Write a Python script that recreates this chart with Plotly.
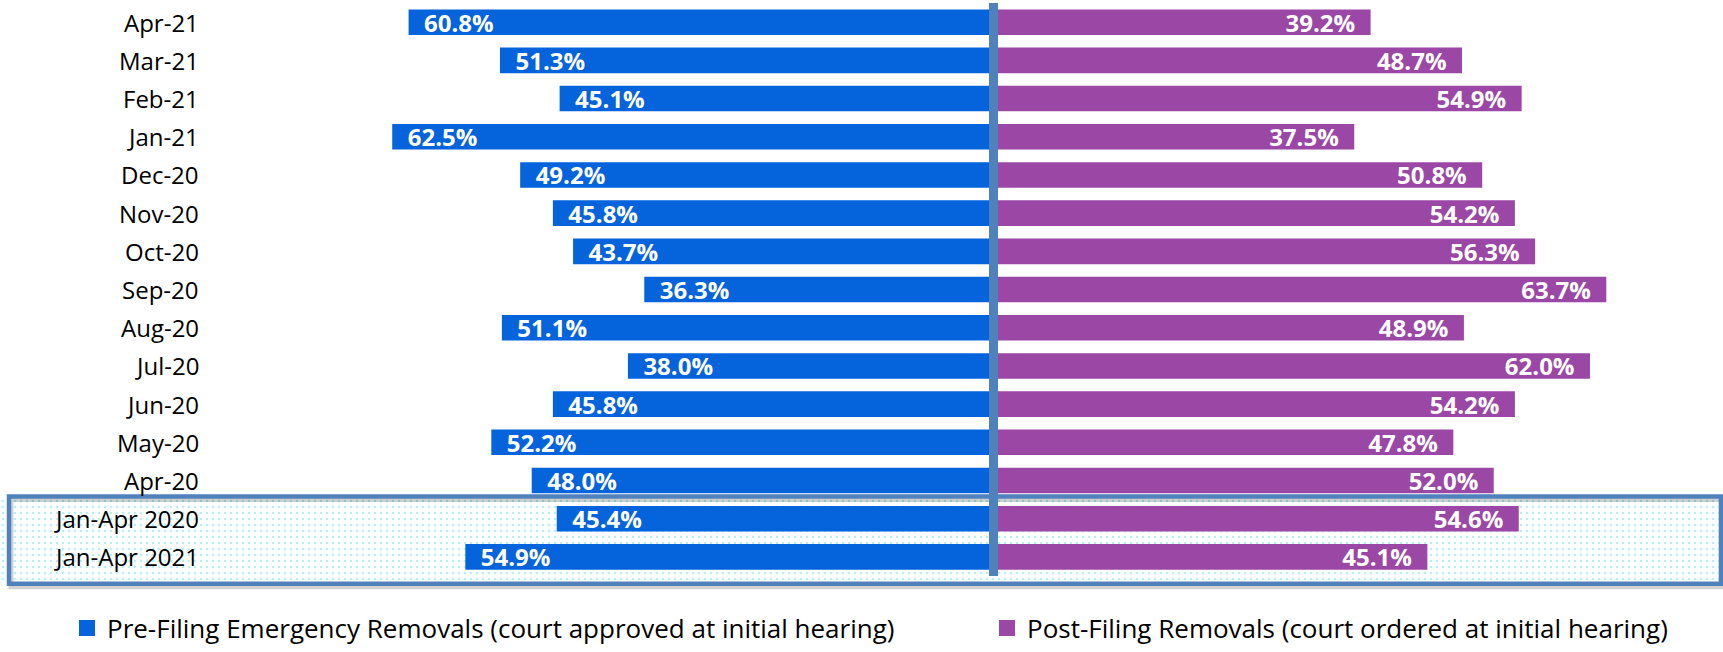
import plotly.graph_objects as go

categories = ["Apr-21", "Mar-21", "Feb-21", "Jan-21", "Dec-20", "Nov-20", "Oct-20",
              "Sep-20", "Aug-20", "Jul-20", "Jun-20", "May-20", "Apr-20",
              "Jan-Apr 2020", "Jan-Apr 2021"]
pre_filing = [60.8, 51.3, 45.1, 62.5, 49.2, 45.8, 43.7, 36.3, 51.1, 38.0, 45.8, 52.2, 48.0, 45.4, 54.9]
post_filing = [39.2, 48.7, 54.9, 37.5, 50.8, 54.2, 56.3, 63.7, 48.9, 62.0, 54.2, 47.8, 52.0, 54.6, 45.1]
highlighted = ["Jan-Apr 2020", "Jan-Apr 2021"]

series_names = ["Pre-Filing Emergency Removals (court approved at initial hearing)",
                "Post-Filing Removals (court ordered at initial hearing)"]

BLUE = "#0563DB"
PURPLE = "#9B47A5"
FRAME = "#4F81BD"
DOT = "#6FE0E6"
FONT = "Open Sans"

W, H = 1723, 652
X_RANGE = [-103.27, 75.83]
Y_RANGE = [16.254, -0.581]
NBSP = "\u00a0"

ypos = list(range(len(categories)))

fig = go.Figure()

# Highlight background (dotted) for the summary rows
hi_idx = [categories.index(c) for c in highlighted]
box_top = min(hi_idx) - 0.58
box_bot = max(hi_idx) + 0.70
fig.add_trace(go.Bar(
    y=[(box_top + box_bot) / 2], x=[X_RANGE[1] - X_RANGE[0]], base=[X_RANGE[0]],
    width=[box_bot - box_top], orientation="h", showlegend=False, hoverinfo="skip",
    marker=dict(color="white", line=dict(width=0),
                pattern=dict(shape=".", fgcolor=DOT, bgcolor="white", size=6, solidity=0.16)),
))

fig.add_trace(go.Bar(
    y=ypos, x=[-v for v in pre_filing], orientation="h", width=0.67,
    name=series_names[0], showlegend=False,
    marker=dict(color=BLUE, line=dict(width=0)),
    text=[NBSP * 2 + f"{v:.1f}%" for v in pre_filing],
    textposition="inside", insidetextanchor="end", textangle=0, constraintext="none",
    textfont=dict(family=FONT, size=24, color="white", weight="bold"),
))
fig.add_trace(go.Bar(
    y=ypos, x=post_filing, orientation="h", width=0.67,
    name=series_names[1], showlegend=False,
    marker=dict(color=PURPLE, line=dict(width=0)),
    text=[f"{v:.1f}%" + NBSP * 2 for v in post_filing],
    textposition="inside", insidetextanchor="end", textangle=0, constraintext="none",
    textfont=dict(family=FONT, size=24, color="white", weight="bold"),
))

# legend entries (square swatches)
for name, color, lg in [(series_names[0], BLUE, "legend"), (series_names[1], PURPLE, "legend2")]:
    fig.add_trace(go.Scatter(x=[None], y=[None], mode="markers", name=name, legend=lg,
                             marker=dict(symbol="square", size=16, color=color)))

# category labels
for i, c in enumerate(categories):
    fig.add_annotation(x=201 / W, xref="paper", y=i, yref="y", text=c, showarrow=False,
                       xanchor="right", yanchor="middle",
                       font=dict(family=FONT, size=24, color="#000000"))

shapes = [
    # shadow of frame
    dict(type="rect", xref="paper", yref="y", x0=11 / W, x1=1723 / W,
         y0=box_top + 0.08, y1=box_bot + 0.08,
         line=dict(color="rgba(0,0,0,0.18)", width=5), layer="above"),
    dict(type="rect", xref="paper", yref="y", x0=9 / W, x1=1721 / W,
         y0=box_top, y1=box_bot, line=dict(color=FRAME, width=4.5), layer="above"),
    # center axis
    dict(type="line", xref="x", yref="y", x0=0, x1=0, y0=-0.5, y1=len(categories) - 0.5,
         line=dict(color=FRAME, width=9), layer="above"),
]

legend_font = dict(family=FONT, size=26, color="#000000")
fig.update_layout(
    width=W, height=H, margin=dict(l=0, r=0, t=0, b=0),
    paper_bgcolor="white", plot_bgcolor="white",
    barmode="overlay", shapes=shapes,
    xaxis=dict(range=X_RANGE, visible=False, fixedrange=True),
    yaxis=dict(range=Y_RANGE, visible=False, fixedrange=True),
    font=dict(family=FONT, color="#000000"),
    legend=dict(x=67 / W, y=1 - 637 / H, xanchor="left", yanchor="middle", orientation="h",
                font=legend_font, bgcolor="rgba(0,0,0,0)", itemsizing="trace"),
    legend2=dict(x=987 / W, y=1 - 637 / H, xanchor="left", yanchor="middle", orientation="h",
                 font=legend_font, bgcolor="rgba(0,0,0,0)", itemsizing="trace"),
)

fig.write_html("out.html", config={"displayModeBar": False},
               post_script="document.body.style.margin='0';")
